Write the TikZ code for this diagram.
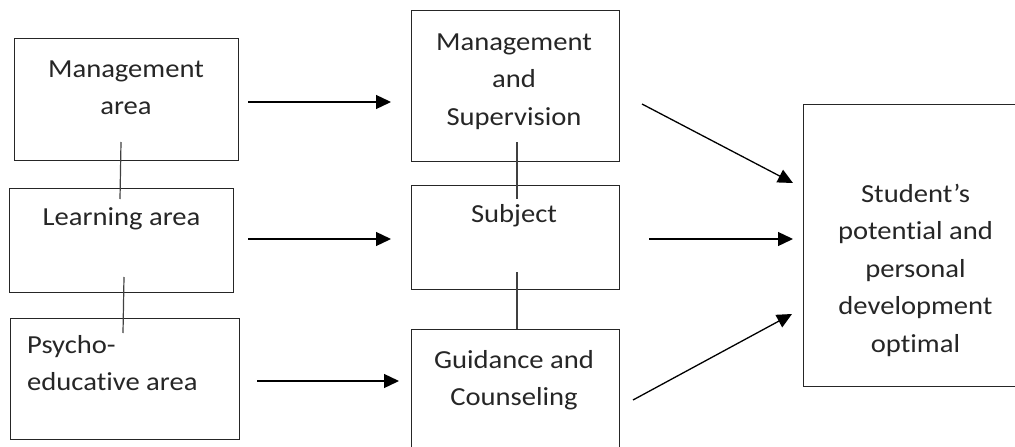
\documentclass[tikz,border=0pt]{standalone}
\usepackage{fontspec}
\setmainfont{Carlito}[FakeStretch=1.1, Ligatures={NoCommon}]
\usetikzlibrary{arrows.meta}
\tikzset{
  box/.style={draw=black!85, line width=1.3pt, rectangle, inner sep=0pt},
  txt/.style={inner sep=0pt, text=black!85, font=\fontsize{26}{37.5}\selectfont, align=center, anchor=north},
  link/.style={draw=black!75, line width=1.2pt},
  arr/.style={draw=black, line width=1.3pt, -{Triangle[length=15pt,width=14pt]}}
}
\begin{document}
\begin{tikzpicture}[x=1pt,y=-1pt]
\useasboundingbox (0,0) rectangle (1015,447);
\clip (0,0) rectangle (1015,447);
% left column boxes
\node[box, minimum width=224pt, minimum height=122pt, anchor=north west] (b1) at (14,38) {};
\node[box, minimum width=224pt, minimum height=104pt, anchor=north west] (b2) at (9,188) {};
\node[box, minimum width=229pt, minimum height=121pt, anchor=north west] (b3) at (10,318) {};
% middle column boxes
\node[box, minimum width=208pt, minimum height=151pt, anchor=north west] (bA) at (411,10) {};
\node[box, minimum width=208pt, minimum height=104pt, anchor=north west] (bB) at (411,185) {};
\node[box, minimum width=208pt, minimum height=140pt, anchor=north west] (bC) at (411,329) {};
% right box
\node[box, minimum width=225pt, minimum height=282pt, anchor=north west] (bR) at (803,104) {};
% texts
\node[txt] (t1) at (126,50.75) {\strut Management\\area};
\node[txt] (t2) at (121.5,198.75) {\strut Learning area};
\node[txt, anchor=north west, align=left] (t3) at (27,326.75) {\strut Psycho-\\educative area};
\node[txt] (tA) at (514,23.75) {\strut Management\\and\\Supervision};
\node[txt] (tB) at (514,195.75) {\strut Subject};
\node[txt] (tC) at (514,341.75) {\strut Guidance and\\Counseling};
\node[txt] (tR) at (915.5,175.75) {\strut Student’s\\potential and\\personal\\development\\optimal};
% vertical links
\coordinate (v1a) at (121,142); \coordinate (v1b) at (120,199);
\coordinate (v2a) at (124,277); \coordinate (v2b) at (123,333);
\coordinate (v3a) at (517,142); \coordinate (v3b) at (517,199);
\coordinate (v4a) at (517,272); \coordinate (v4b) at (517,329);
\draw[link] (v1a) -- (v1b);
\draw[link] (v2a) -- (v2b);
\draw[link] (v3a) -- (v3b);
\draw[link] (v4a) -- (v4b);
% arrows
\coordinate (a1s) at (248,102); \coordinate (a1e) at (391,102);
\coordinate (a2s) at (248,239); \coordinate (a2e) at (391,239);
\coordinate (a3s) at (257,381); \coordinate (a3e) at (399,381);
\coordinate (a4s) at (642,104); \coordinate (a4e) at (793,183);
\coordinate (a5s) at (649,239); \coordinate (a5e) at (793,239);
\coordinate (a6s) at (633,400); \coordinate (a6e) at (792,314);
\draw[arr] (a1s) -- (a1e);
\draw[arr] (a2s) -- (a2e);
\draw[arr] (a3s) -- (a3e);
\draw[arr] (a4s) -- (a4e);
\draw[arr] (a5s) -- (a5e);
\draw[arr] (a6s) -- (a6e);
\end{tikzpicture}
\end{document}
